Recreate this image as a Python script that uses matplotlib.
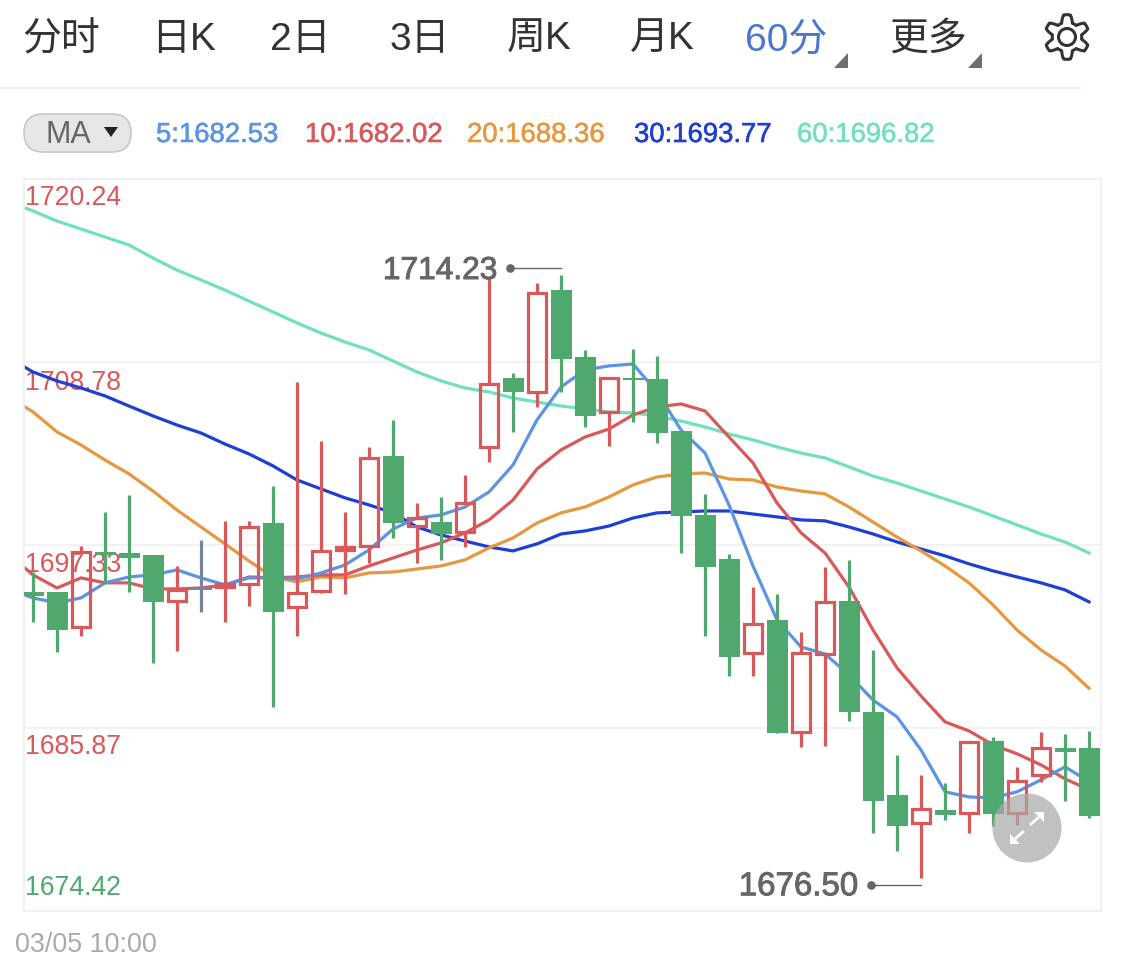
import numpy as np
import matplotlib
matplotlib.use("Agg")
import matplotlib.pyplot as plt
import matplotlib.patheffects as pe
from matplotlib.patches import FancyBboxPatch, Circle, Polygon

# ---------- data ----------
tabs = ["分时", "日K", "2日", "3日", "周K", "月K", "60分", "更多"]
legend_labels = ["5:1682.53", "10:1682.02", "20:1688.36", "30:1693.77", "60:1696.82"]
y_ticks = [1720.24, 1708.78, 1697.33, 1685.87, 1674.42]
date_label = "03/05 10:00"

kinds = [
    "d","d","u","d","d","d","u","f","u","u","d","u","u","u","u","d","u","d","u","u",
    "d","u","d","d","u","d","d","d","d","d","u","d","u","u","d","d","d","u","d","u",
    "d","u","u","d","d"]
highs = [1695.65,1694.40,1697.27,1699.40,1700.47,1696.71,1696.02,1697.65,1698.84,1698.84,
         1701.03,1707.54,1703.84,1699.40,1703.47,1705.16,1699.96,1700.34,1701.72,1714.04,
         1708.10,1713.73,1714.23,1709.54,1707.85,1709.60,1709.16,1704.47,1700.53,1696.77,
         1694.71,1694.27,1691.89,1695.96,1696.40,1690.76,1684.20,1682.94,1682.44,1685.07,
         1685.32,1683.44,1685.63,1685.51,1685.70]
body_tops = [1694.40,1694.40,1696.96,1696.90,1696.83,1696.68,1694.58,1694.64,1694.96,1698.52,
             1698.71,1694.40,1697.02,1697.27,1702.84,1702.91,1699.09,1698.77,1700.03,1707.47,
             1707.79,1713.17,1713.29,1709.10,1707.85,1707.79,1707.72,1704.47,1699.21,1696.46,
             1692.46,1692.64,1690.64,1693.83,1693.83,1686.88,1681.69,1680.88,1680.75,1685.07,
             1685.07,1682.63,1684.69,1684.63,1684.63]
body_bottoms = [1694.15,1692.02,1692.14,1696.71,1696.52,1693.77,1693.77,1694.52,1694.64,1694.83,
                1693.14,1693.39,1694.40,1696.96,1697.21,1698.71,1698.46,1698.02,1698.09,1703.41,
                1706.91,1706.85,1708.98,1705.41,1705.60,1707.66,1704.34,1699.15,1695.96,1690.33,
                1690.51,1685.57,1685.57,1690.45,1686.88,1681.32,1679.75,1679.88,1680.44,1680.50,
                1680.50,1680.50,1682.88,1684.38,1680.38]
lows = [1692.52,1690.64,1691.64,1694.96,1694.40,1689.95,1690.70,1693.14,1692.52,1693.52,
        1687.20,1691.64,1694.33,1694.27,1696.21,1697.77,1696.21,1696.40,1697.21,1702.53,
        1704.41,1705.97,1706.91,1704.72,1703.53,1705.03,1703.72,1696.84,1691.64,1689.14,
        1689.14,1685.57,1684.69,1684.76,1686.32,1679.31,1678.19,1676.50,1680.13,1679.31,
        1679.75,1679.81,1682.50,1681.32,1680.25]

# moving averages start one period before the first candle
ma5 = [1694.52,1694.02,1693.70,1694.02,1694.96,1695.33,1695.46,1695.77,1695.27,1694.83,
       1695.27,1695.27,1695.21,1695.58,1696.08,1697.02,1698.33,1699.02,1699.21,1699.71,
       1700.65,1702.34,1705.16,1707.22,1708.29,1708.54,1708.66,1706.91,1704.53,1703.09,
       1699.84,1696.02,1692.64,1690.95,1690.51,1689.20,1687.63,1686.57,1684.50,1681.88,
       1681.56,1681.50,1681.88,1682.63,1683.44,1682.53]
ma10 = [1696.71,1695.46,1694.64,1695.27,1694.96,1694.96,1694.58,1694.58,1694.64,1694.83,
        1695.33,1695.27,1695.33,1695.46,1695.46,1696.02,1696.52,1697.02,1697.46,1698.09,
        1698.90,1700.15,1702.09,1703.28,1704.09,1704.59,1705.47,1705.97,1706.16,1705.72,
        1704.09,1702.47,1699.96,1698.09,1696.83,1694.70,1692.01,1689.64,1687.88,1686.26,
        1685.69,1684.82,1684.26,1683.57,1682.69,1682.02]
ma20 = [1706.60,1705.66,1704.41,1703.59,1702.65,1701.78,1700.71,1699.52,1698.46,1697.40,
        1696.33,1695.33,1695.02,1695.33,1695.27,1695.58,1695.64,1695.83,1696.02,1696.40,
        1697.15,1697.77,1698.71,1699.34,1699.71,1700.34,1701.09,1701.59,1701.78,1701.84,
        1701.46,1701.40,1700.96,1700.71,1700.53,1699.71,1698.77,1697.83,1696.96,1696.02,
        1694.96,1693.58,1692.01,1690.76,1689.76,1688.36]
ma30 = [1709.04,1708.16,1707.60,1707.16,1706.66,1706.03,1705.41,1704.84,1704.34,1703.65,
        1703.03,1702.28,1701.40,1700.84,1700.28,1699.84,1699.34,1698.46,1697.96,1697.58,
        1697.21,1696.96,1697.40,1698.02,1698.21,1698.52,1699.02,1699.34,1699.40,1699.46,
        1699.46,1699.27,1699.09,1698.90,1698.84,1698.46,1698.02,1697.52,1697.08,1696.65,
        1696.15,1695.71,1695.33,1694.96,1694.52,1693.77]
ma60 = [1718.80,1718.24,1717.61,1717.11,1716.61,1716.11,1715.29,1714.54,1713.92,1713.29,
        1712.60,1711.92,1711.23,1710.60,1710.04,1709.54,1708.85,1708.16,1707.60,1707.16,
        1706.91,1706.53,1706.28,1706.03,1705.85,1705.66,1705.59,1705.41,1705.09,1704.72,
        1704.28,1703.91,1703.47,1703.09,1702.78,1702.22,1701.65,1701.21,1700.71,1700.21,
        1699.71,1699.15,1698.59,1698.02,1697.52,1696.83]

# ---------- style ----------
W, H = 1125, 960
RED, GREEN, FLAT = "#d9585a", "#4fa96f", "#78849f"
MA_COLORS = ["#5c94e4", "#d9585a", "#e6983f", "#1f3fd3", "#70e0bf"]
plt.rcParams["font.family"] = ["Liberation Sans", "Noto Sans CJK SC"]
HEAVY = [pe.withStroke(linewidth=0.7, foreground="#666666")]

fig = plt.figure(figsize=(W / 100, H / 100), dpi=100, facecolor="white")

# ---------- chart ----------
L, R, T, B = 24, 1101, 179, 911
ax = fig.add_axes([L / W, 1 - B / H, (R - L) / W, (B - T) / H], zorder=1)
ax.set_xlim(-0.375, 44.5)
ax.set_ylim(y_ticks[-1], y_ticks[0])
ax.set_xticks([])
ax.set_yticks(y_ticks)
ax.tick_params(left=False, labelleft=False)
ax.grid(axis="y", color="#f1f1f1", lw=1.3, zorder=0)
ax.set_axisbelow(True)
for s in ax.spines.values():
    s.set_color("#efefef")
    s.set_linewidth(1.2)

ma_x = np.arange(-1, 45)
for series, c in zip([ma60, ma30, ma20, ma10, ma5], MA_COLORS[::-1]):
    ax.plot(ma_x, series, color=c, lw=2.3, zorder=2, solid_joinstyle="round")

ht, bt, bb, lw_ = map(np.array, (highs, body_tops, body_bottoms, lows))
for i, k in enumerate(kinds):
    c = {"u": RED, "d": GREEN, "f": FLAT}[k]
    if k == "u":
        ax.vlines(i, bt[i], ht[i], color=c, lw=2.3, zorder=3)
        ax.vlines(i, lw_[i], bb[i], color=c, lw=2.3, zorder=3)
        ax.bar(i, bt[i] - bb[i] - 0.15, bottom=bb[i] + 0.075, width=0.72, fill=False,
               edgecolor=c, linewidth=2.3, zorder=3)
    else:
        ax.vlines(i, lw_[i], ht[i], color=c, lw=2.3, zorder=3)
        ax.bar(i, bt[i] - bb[i], bottom=bb[i], width=0.875, color=c, linewidth=0, zorder=3)

offsets = [19, 21, 20, 19, -23]
for v, off, c in zip(y_ticks, offsets, [RED, RED, RED, RED, GREEN]):
    ax.annotate(f"{v:.2f}", xy=(0, v), xycoords=("axes fraction", "data"),
                xytext=(1, -off * 0.72), textcoords="offset points",
                ha="left", va="center", fontsize=19.2, color=c, zorder=1)

# ---------- overlay in pixel space ----------
ov = fig.add_axes([0, 0, 1, 1], zorder=2)
ov.set_xlim(0, W)
ov.set_ylim(H, 0)
ov.axis("off")
ov.patch.set_alpha(0)


def data_px(xv, yv):
    px, py = ax.transData.transform((xv, yv))
    return px, H - py


# high / low markers
imax = int(np.argmax(highs))
imin = int(np.argmin(lows))
GREY = "#666666"
hx, hy = data_px(imax, highs[imax])
ov.plot([hx - 51, hx], [hy - 7, hy - 7], color=GREY, lw=1.0)
ov.plot([hx - 51], [hy - 7], "o", color=GREY, ms=6.2, mew=0)
ov.text(hx - 64, hy - 4, f"{highs[imax]:.2f}", ha="right", va="center",
        fontsize=22.8, color=GREY, path_effects=HEAVY)
lx, ly = data_px(imin, lows[imin])
ov.plot([lx - 50, lx], [ly + 7, ly + 7], color=GREY, lw=1.0)
ov.plot([lx - 50], [ly + 7], "o", color=GREY, ms=6.2, mew=0)
ov.text(lx - 63, ly + 9, f"{lows[imin]:.2f}", ha="right", va="center",
        fontsize=23.8, color=GREY, path_effects=HEAVY)

# toolbar
tab_x = [22, 151, 270, 390, 507, 630, 745, 889]
for t, tx in zip(tabs, tab_x):
    ov.text(tx, 40, t, ha="left", va="center", fontsize=28,
            color="#4a76d0" if t == "60分" else "#333333")
for tx in (834, 968):
    ov.add_patch(Polygon([[tx, 68], [tx + 14, 68], [tx + 14, 53]], closed=True,
                         color="#6f6f6f", lw=0))
ov.plot([0, 1080], [88, 88], color="#f1f1f1", lw=1.5)

# gear
theta = np.linspace(0, 2 * np.pi, 721)
r = 18.5 + 3.8 * np.clip(1.6 * np.cos(6 * (theta + np.pi / 6)), -1, 1)
gx, gy = 1067, 37
ov.add_patch(Polygon(np.c_[gx + r * np.cos(theta), gy + r * np.sin(theta)], closed=True,
                     fill=False, edgecolor="#333333", lw=2.2, joinstyle="round"))
ov.add_patch(Circle((gx, gy), 8.5, fill=False, edgecolor="#333333", lw=2.2))

# MA selector and legend
ov.add_patch(FancyBboxPatch((34, 124), 87, 18, boxstyle="round,pad=10,rounding_size=19",
                            fc="#e6e6e6", ec="#c4c4c4", lw=1.1))
ov.text(68, 135, "MA", ha="center", va="center", fontsize=22, color="#666666")
ov.add_patch(Polygon([[104, 127], [118, 127], [111, 137]], closed=True, color="#222222", lw=0))
for t, tx, c in zip(legend_labels, [156, 305, 467, 634, 797], MA_COLORS):
    ov.text(tx, 135, t, ha="left", va="center", fontsize=19.8, color=c,
            path_effects=[pe.withStroke(linewidth=0.4, foreground=c)])

ov.text(15, 945, date_label, ha="left", va="center", fontsize=19.4, color="#aaaaaa")

# expand button
ov.add_patch(Circle((1027, 828), 34.5, color="#a9a9a9", alpha=0.72, lw=0))
for sgn in (1, -1):
    ov.plot([1027 + sgn * 3, 1027 + sgn * 12], [828 - sgn * 3, 828 - sgn * 11],
            color="white", lw=2.0, solid_capstyle="butt")
    tip = (1027 + sgn * 17, 828 - sgn * 16)
    ov.add_patch(Polygon([tip, (tip[0] - sgn * 10, tip[1]), (tip[0], tip[1] + sgn * 10)],
                         closed=True, color="white", lw=0))

fig.savefig("out.png", dpi=100, facecolor="white")
